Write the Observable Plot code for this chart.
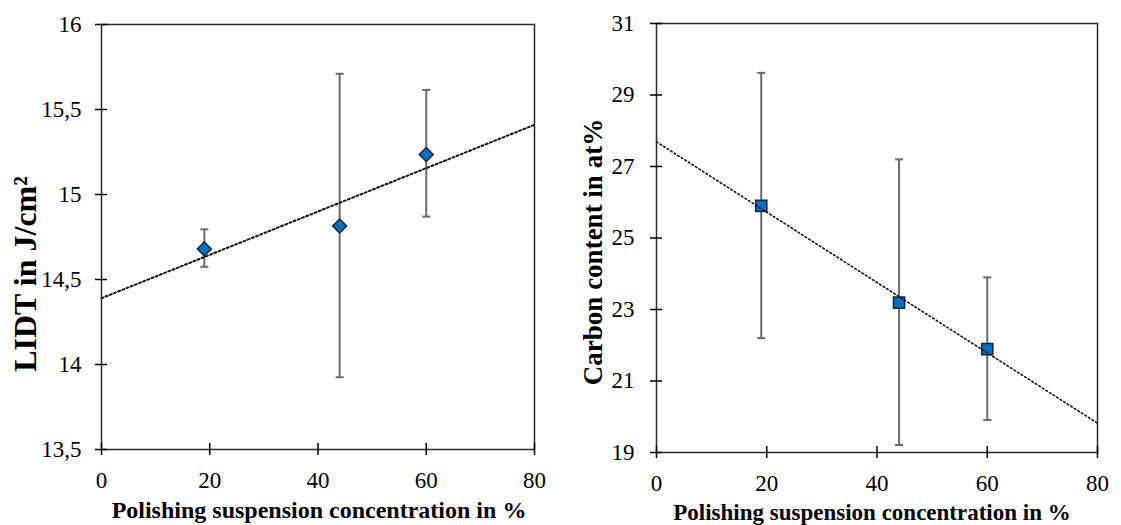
<!DOCTYPE html>
<html><head><meta charset="utf-8">
<script src="https://cdn.jsdelivr.net/npm/d3@7"></script>
<script src="https://cdn.jsdelivr.net/npm/@observablehq/plot@0.6"></script>
<style>
html,body{margin:0;padding:0;background:#fff;}
#wrap{position:relative;width:1121px;height:525px;overflow:hidden;background:#fff;}
#left{position:absolute;left:0;top:0;}
#right{position:absolute;left:560px;top:0;}
</style></head><body><div id="wrap"><div id="left"></div><div id="right"></div></div>
<script>
// ---- data ----
const concentration = [19, 44, 60];
const lidt = [14.68, 14.815, 15.235];
const lidtLow = [14.575, 13.925, 14.87];
const lidtHigh = [14.795, 15.71, 15.615];
const carbon = [25.9, 23.19, 21.89];
const carbonLow = [22.2, 19.21, 19.91];
const carbonHigh = [29.62, 27.2, 23.9];
const trendX = [0, 80];
const lidtTrend = [14.39, 15.41];
const carbonTrend = [27.69, 19.82];
const xTicks = [0, 20, 40, 60, 80];
const lidtTicks = [13.5, 14, 14.5, 15, 15.5, 16];
const carbonTicks = [19, 21, 23, 25, 27, 29, 31];
const xTitle = "Polishing suspension concentration in %";
const lidtTitle = "LIDT in J/cm²";
const carbonTitle = "Carbon content in at%";

const capSymbol = {draw(ctx, size) { const w = Math.sqrt(size / Math.PI); ctx.moveTo(-w, 0); ctx.lineTo(w, 0); }};

function panel(o) {
  const rows = concentration.map((x, i) => ({x, y: o.ys[i], lo: o.lo[i], hi: o.hi[i]}));
  const trend = trendX.map((x, i) => ({x, y: o.trend[i]}));
  return Plot.plot({
    width: o.width, height: 525,
    marginLeft: o.ml, marginRight: o.mr, marginTop: o.mt, marginBottom: o.mb,
    style: {fontFamily: "'Liberation Serif', 'Times New Roman', serif", fontSize: "23px", color: "#000", background: "transparent", overflow: "visible"},
    x: {domain: [0, 80]},
    y: {domain: o.domain},
    marks: [
      Plot.ruleX(rows, {x: "x", y1: "lo", y2: "hi", stroke: "#6b6b6b", strokeWidth: 2}),
      Plot.dot(rows, {x: "x", y: "hi", symbol: capSymbol, r: 4, stroke: "#6b6b6b", strokeWidth: 2, fill: "none"}),
      Plot.dot(rows, {x: "x", y: "lo", symbol: capSymbol, r: 4, stroke: "#6b6b6b", strokeWidth: 2, fill: "none"}),
      Plot.dot(rows, {x: "x", y: "y", symbol: o.symbol, r: o.r, fill: "#0070C0", stroke: "#15243a", strokeWidth: 1.5}),
      Plot.line(trend, {x: "x", y: "y", stroke: "#111", strokeWidth: o.tw, strokeDasharray: o.dash}),
      Plot.frame({stroke: "#2a2a2a", strokeWidth: 1.5}),
      Plot.axisY({ticks: o.ticks, tickFormat: d => String(d).replace(".", ","), tickSize: 12, dx: 6, tickPadding: o.typ, fontSize: 23, label: null, strokeWidth: 1.5}),
      Plot.axisX({ticks: xTicks, tickSize: 12, dy: -6, tickPadding: 16, fontSize: 23, label: null, strokeWidth: 1.5}),
      Plot.text([o.yTitle], {frameAnchor: "left", rotate: -90, textAnchor: "middle", lineAnchor: "middle", dx: o.ytdx, dy: o.ytdy, fontWeight: "bold", fontSize: o.ytfs}),
      Plot.text([xTitle], {frameAnchor: "bottom", textAnchor: "middle", lineAnchor: "middle", dx: o.xtdx, dy: o.xtdy, fontWeight: "bold", fontSize: o.xtfs})
    ]
  });
}

document.getElementById("left").append(panel({
  width: 560, ml: 101, mr: 26, mt: 24, mb: 76,
  domain: [13.5, 16], ticks: lidtTicks, ys: lidt, lo: lidtLow, hi: lidtHigh, trend: lidtTrend,
  symbol: "diamond2", r: 6.3, tw: 2, dash: "2,2.5", typ: 14,
  yTitle: lidtTitle, ytdx: -76, ytdy: 37, ytfs: 32,
  xtdx: 1, xtdy: 61, xtfs: 24
}));
document.getElementById("right").append(panel({
  width: 561, ml: 96, mr: 24, mt: 23, mb: 73,
  domain: [19, 31], ticks: carbonTicks, ys: carbon, lo: carbonLow, hi: carbonHigh, trend: carbonTrend,
  symbol: "square", r: 6.3, tw: 1.6, dash: "1.6,2.6", typ: 16,
  yTitle: carbonTitle, ytdx: -63, ytdy: 14, ytfs: 27,
  xtdx: -5, xtdy: 60, xtfs: 23
}));
</script></body></html>
